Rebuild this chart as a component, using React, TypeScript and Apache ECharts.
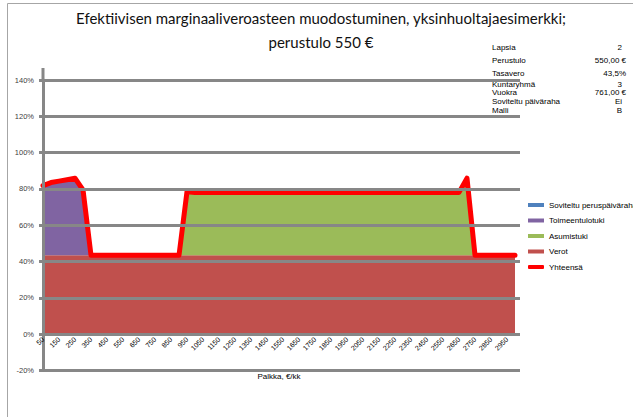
import React, { useEffect, useRef } from 'react';
import * as echarts from 'echarts';

// ---------- data ----------
const categories = [
  50, 100, 150, 200, 250, 300, 350, 400, 450, 500,
  550, 600, 650, 700, 750, 800, 850, 900, 950, 1000,
  1050, 1100, 1150, 1200, 1250, 1300, 1350, 1400, 1450, 1500,
  1550, 1600, 1650, 1700, 1750, 1800, 1850, 1900, 1950, 2000,
  2050, 2100, 2150, 2200, 2250, 2300, 2350, 2400, 2450, 2500,
  2550, 2600, 2650, 2700, 2750, 2800, 2850, 2900, 2950, 3000,
];

const verot = [
  43.5, 43.5, 43.5, 43.5, 43.5, 43.5, 43.5, 43.5, 43.5, 43.5,
  43.5, 43.5, 43.5, 43.5, 43.5, 43.5, 43.5, 43.5, 43.5, 43.5,
  43.5, 43.5, 43.5, 43.5, 43.5, 43.5, 43.5, 43.5, 43.5, 43.5,
  43.5, 43.5, 43.5, 43.5, 43.5, 43.5, 43.5, 43.5, 43.5, 43.5,
  43.5, 43.5, 43.5, 43.5, 43.5, 43.5, 43.5, 43.5, 43.5, 43.5,
  43.5, 43.5, 43.5, 43.5, 43.5, 43.5, 43.5, 43.5, 43.5, 43.5,
];

const asumistuki = [
  0, 0, 0, 0, 0, 0, 0, 0, 0, 0,
  0, 0, 0, 0, 0, 0, 0, 0, 35, 34.6,
  34.6, 34.6, 34.6, 34.6, 34.6, 34.6, 34.6, 34.6, 34.6, 34.6,
  34.6, 34.6, 34.6, 34.6, 34.6, 34.6, 34.6, 34.6, 34.6, 34.6,
  34.6, 34.6, 34.6, 34.6, 34.6, 34.6, 34.6, 34.6, 34.6, 34.6,
  34.6, 34.6, 34.6, 42.4, 0, 0, 0, 0, 0, 0,
];

const toimeentulotuki = [
  38.3, 40, 40.8, 41.6, 42.4, 36, 0, 0, 0, 0,
  0, 0, 0, 0, 0, 0, 0, 0, 0, 0,
  0, 0, 0, 0, 0, 0, 0, 0, 0, 0,
  0, 0, 0, 0, 0, 0, 0, 0, 0, 0,
  0, 0, 0, 0, 0, 0, 0, 0, 0, 0,
  0, 0, 0, 0, 0, 0, 0, 0, 0, 0,
];

const soviteltu = [
  0, 0, 0, 0, 0, 0, 0, 0, 0, 0,
  0, 0, 0, 0, 0, 0, 0, 0, 0, 0,
  0, 0, 0, 0, 0, 0, 0, 0, 0, 0,
  0, 0, 0, 0, 0, 0, 0, 0, 0, 0,
  0, 0, 0, 0, 0, 0, 0, 0, 0, 0,
  0, 0, 0, 0, 0, 0, 0, 0, 0, 0,
];

const yhteensa = [
  81.8, 83.5, 84.3, 85.1, 85.9, 79.5, 43.5, 43.5, 43.5, 43.5,
  43.5, 43.5, 43.5, 43.5, 43.5, 43.5, 43.5, 43.5, 78.5, 78.1,
  78.1, 78.1, 78.1, 78.1, 78.1, 78.1, 78.1, 78.1, 78.1, 78.1,
  78.1, 78.1, 78.1, 78.1, 78.1, 78.1, 78.1, 78.1, 78.1, 78.1,
  78.1, 78.1, 78.1, 78.1, 78.1, 78.1, 78.1, 78.1, 78.1, 78.1,
  78.1, 78.1, 78.1, 85.9, 43.5, 43.5, 43.5, 43.5, 43.5, 43.5,
];

const yMin = -20;
const yMax = 140;
const yInterval = 20;

const titleLines = [
  'Efektiivisen marginaaliveroasteen muodostuminen, yksinhuoltajaesimerkki;',
  'perustulo 550 €',
];
const infoLabels = ['Lapsia', 'Perustulo', 'Tasavero', 'Kuntaryhmä', 'Vuokra', 'Soviteltu päiväraha', 'Malli'];
const infoValues = ['2', '550,00 €', '43,5%', '3', '761,00 €', 'Ei', 'B'];
const seriesNames = ['Soviteltu peruspäiväraha', 'Toimeentulotuki', 'Asumistuki', 'Verot', 'Yhteensä'];
const xName = 'Palkka, €/kk';

// ---------- layout / style ----------
const W = 633;
const H = 417;
const GRID_LEFT = 43;
const GRID_TOP = 80;
const GRID_BOTTOM_Y = 370.5;
const GRID_LINES_RIGHT_X = 520;
const DATA_RIGHT_X = 515;
const GRAY = '#878787';
const FONT = '"Liberation Sans", Arial, sans-serif';
const TITLE_FONT = 'Lato, sans-serif';
const infoTop = [47, 60.5, 73, 84.5, 92.5, 101.5, 110.5];

// pixel height of one value unit in the gridline grid, so the data grid ends exactly at 0 %
const PX_PER_UNIT = (GRID_BOTTOM_Y - GRID_TOP) / (yMax - yMin);
const ZERO_Y = GRID_BOTTOM_Y - (0 - yMin) * PX_PER_UNIT;

export default function App() {
  const ref = useRef<HTMLDivElement>(null);

  useEffect(() => {
    if (!ref.current) return;
    const chart = echarts.init(ref.current, null, { renderer: 'svg' });

    const graphics: any[] = [
      {
        type: 'rect',
        shape: { x: 7.5, y: 3.5, width: 700, height: 500 },
        style: { fill: 'none', stroke: '#a6a6a6', lineWidth: 1 },
        silent: true,
      },
      {
        type: 'rect',
        shape: { x: GRID_LEFT - 1.5, y: 68, width: 3, height: GRID_TOP - 68 },
        style: { fill: GRAY },
        silent: true,
      },
      ...titleLines.map((t, i) => ({
        type: 'text',
        x: 321,
        y: 18 + i * 23.5,
        style: {
          text: t,
          fill: '#111',
          font: `15px ${TITLE_FONT}`,
          align: 'center',
          verticalAlign: 'middle',
        },
      })),
      ...infoLabels.map((t, i) => ({
        type: 'text',
        x: 492,
        y: infoTop[i],
        style: { text: t, fill: '#000', font: `8px ${FONT}`, align: 'left', verticalAlign: 'middle' },
      })),
      ...infoValues.map((t, i) => ({
        type: 'text',
        x: t.length <= 2 ? 622 : 626,
        y: infoTop[i],
        style: { text: t, fill: '#000', font: `8px ${FONT}`, align: 'right', verticalAlign: 'middle' },
      })),
    ];

    const areaSeries = (name: string, data: number[], color: string) => ({
      name,
      type: 'line',
      stack: 'total',
      xAxisIndex: 1,
      yAxisIndex: 1,
      data,
      symbol: 'none',
      showSymbol: false,
      color,
      lineStyle: { width: 0 },
      areaStyle: { color, opacity: 1 },
      z: 2,
    });

    const option: any = {
      animation: false,
      backgroundColor: '#ffffff',
      graphic: graphics,
      legend: {
        orient: 'vertical',
        left: 528,
        top: 200,
        padding: 0,
        itemWidth: 16,
        itemHeight: 4,
        itemGap: 5.5,
        textStyle: { fontSize: 8, fontFamily: FONT, color: '#000', lineHeight: 10 },
        data: [
          { name: seriesNames[0], icon: 'rect' },
          { name: seriesNames[1], icon: 'rect' },
          { name: seriesNames[2], icon: 'rect' },
          { name: seriesNames[3], icon: 'rect' },
          { name: seriesNames[4], icon: 'roundRect' },
        ],
        selectedMode: false,
      },
      grid: [
        {
          left: GRID_LEFT,
          right: W - GRID_LINES_RIGHT_X,
          top: GRID_TOP,
          bottom: H - GRID_BOTTOM_Y,
        },
        {
          left: GRID_LEFT,
          right: W - DATA_RIGHT_X,
          top: GRID_TOP,
          bottom: H - ZERO_Y,
        },
      ],
      xAxis: [
        { type: 'value', gridIndex: 0, show: false, min: 0, max: 1 },
        {
          type: 'category',
          gridIndex: 1,
          data: categories.map(String),
          boundaryGap: false,
          z: 10,
          axisLine: { show: true, onZero: false, lineStyle: { color: GRAY, width: 3 } },
          axisTick: { show: false },
          axisLabel: {
            interval: 1,
            rotate: 45,
            fontSize: 7,
            fontFamily: FONT,
            color: '#000',
            margin: 4,
          },
          splitLine: { show: false },
          name: xName,
          nameLocation: 'middle',
          nameGap: 38,
          nameTextStyle: { fontSize: 8, fontFamily: FONT, color: '#000' },
        },
      ],
      yAxis: [
        {
          type: 'value',
          gridIndex: 0,
          min: yMin,
          max: yMax,
          interval: yInterval,
          z: 10,
          axisLine: { show: true, onZero: false, lineStyle: { color: GRAY, width: 3 } },
          axisTick: { show: true, length: 4, lineStyle: { color: GRAY, width: 3 } },
          axisLabel: {
            formatter: '{value}%',
            fontSize: 7.5,
            fontFamily: FONT,
            color: '#404040',
            margin: 9,
          },
          splitLine: { show: true, lineStyle: { color: GRAY, width: 3 } },
        },
        {
          type: 'value',
          gridIndex: 1,
          min: 0,
          max: yMax,
          interval: yInterval,
          show: false,
          splitLine: { show: false },
        },
      ],
      series: [
        areaSeries(seriesNames[3], verot, '#C0504D'),
        areaSeries(seriesNames[2], asumistuki, '#9BBB59'),
        areaSeries(seriesNames[1], toimeentulotuki, '#8064A2'),
        areaSeries(seriesNames[0], soviteltu, '#4F81BD'),
        {
          name: seriesNames[4],
          type: 'line',
          xAxisIndex: 1,
          yAxisIndex: 1,
          data: yhteensa,
          symbol: 'none',
          showSymbol: false,
          color: '#FF0000',
          lineStyle: { color: '#FF0000', width: 5, join: 'round', cap: 'round' },
          z: 5,
        },
      ],
    };

    chart.setOption(option);
    return () => chart.dispose();
  }, []);

  return (
    <div
      ref={ref}
      style={{ position: 'fixed', left: 0, top: 0, width: W, height: H, background: '#fff' }}
    />
  );
}
